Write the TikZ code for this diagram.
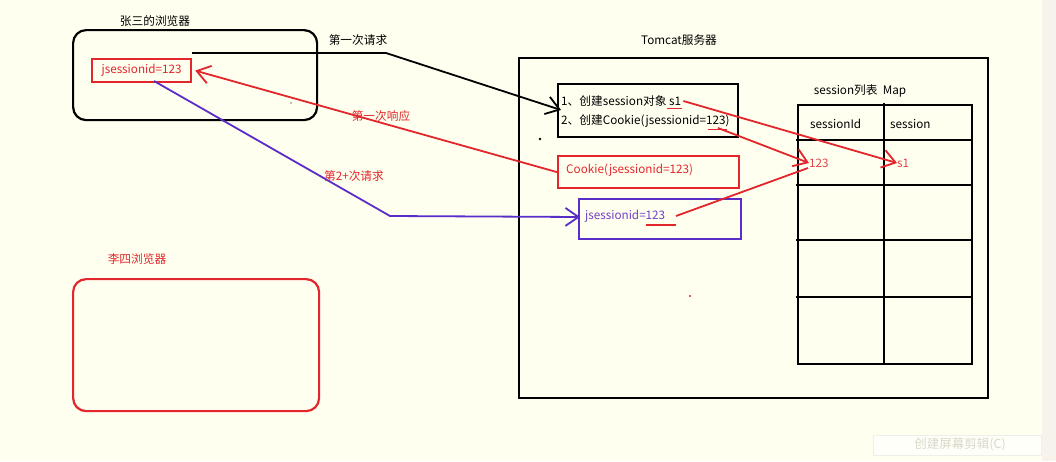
\documentclass[tikz,border=0pt]{standalone}
\usepackage{fontspec}
\setmainfont{Noto Sans CJK SC}
\usetikzlibrary{arrows.meta}
\definecolor{bg}{HTML}{FFFFF0}
\definecolor{strip}{HTML}{F7F2EC}
\definecolor{myred}{HTML}{E2262C}
\definecolor{lred}{HTML}{E04448}
\definecolor{mypurple}{HTML}{5A2DC8}
\definecolor{ptext}{HTML}{7040C8}
\definecolor{faint}{HTML}{D8D8CA}
\tikzset{
  txt/.style={inner sep=0pt, font=\fontsize{11.7}{13}\selectfont},
  blackbox/.style={draw=black, line width=2.2pt, anchor=north west, inner sep=0pt},
  redbox/.style={draw=myred, line width=2.2pt, anchor=north west, inner sep=0pt},
  purplebox/.style={draw=mypurple, line width=2pt, anchor=north west, inner sep=0pt},
  barb/.style={-{Straight Barb[length=13pt,width=18pt,line width=1.8pt]}},
  conn/.style={line width=1.8pt},
  tline/.style={line width=2.2pt, line cap=rect},
}
\begin{document}
\begin{tikzpicture}[x=1pt,y=-1pt]
\useasboundingbox (0,0) rectangle (1056,461);
\fill[bg] (0,0) rectangle (1056,461);
\fill[strip] (1042,0) rectangle (1056,461);

% Zhang San browser
\node[blackbox, rounded corners=13pt, minimum width=244pt, minimum height=90pt] (zsbox) at (72,29) {};
\node[txt] (zslabel) at (155,21) {张三的浏览器};
\node[redbox, minimum width=99pt, minimum height=23pt, text=myred, txt] (jsid) at (91,58) {jsessionid=123};

% Li Si browser
\node[redbox, rounded corners=13pt, minimum width=246pt, minimum height=132pt] (lsbox) at (72,278) {};
\node[txt, text=myred] (lslabel) at (137,259) {李四浏览器};

% Tomcat server
\node[blackbox, minimum width=469pt, minimum height=340pt] (tomcat) at (518,57) {};
\node[txt] (tclabel) at (679,40) {Tomcat服务器};

% step box
\node[blackbox, minimum width=180pt, minimum height=53pt] (box1) at (557,83) {};
\node[txt, anchor=west] (line1) at (561,101) {1、创建session对象 s1};
\node[txt, anchor=west] (line2) at (561,121) {2、创建Cookie(jsessionid=123)};
\coordinate (s1u) at ([xshift=2pt]line1.east);
\draw[myred, line width=1.5pt] ([xshift=-14pt,yshift=-2pt]line1.south east) -- ([xshift=1pt,yshift=-2pt]line1.south east);
\draw[myred, line width=1.5pt] ([xshift=-22pt,yshift=-2pt]line2.south east) -- ([xshift=-3pt,yshift=-2pt]line2.south east);

% cookie box
\node[redbox, minimum width=181pt, minimum height=32pt] (cookie) at (557,155) {};
\node[txt, anchor=west, text=myred] (cookietxt) at (566,170) {Cookie(jsessionid=123)};

% purple box
\node[purplebox, minimum width=162pt, minimum height=40pt] (pbox) at (578,198) {};
\node[txt, anchor=west, text=ptext] (ptxt) at (585,216) {jsessionid=123};
\draw[myred, line width=1.5pt] ([xshift=-19pt,yshift=-2.5pt]ptxt.south east) -- ([xshift=11pt,yshift=-2.5pt]ptxt.south east);

% table
\node[txt] (maplabel) at (860,91) {session列表\ \ Map};
\node[blackbox, minimum width=174pt, minimum height=259pt] (tbl) at (797,104) {};
\draw[tline] (884,104) -- (884,363);
\draw[tline] (797,140) -- (971,140);
\draw[tline] (797,185) -- (971,185);
\draw[tline] (797,240) -- (971,240);
\draw[tline] (797,297) -- (971,297);
\node[txt, anchor=west] (hid) at (810,124) {sessionId};
\node[txt, anchor=west] (hs) at (890,124) {session};
\node[txt, anchor=west, text=lred] (c123) at (809,163) {123};
\node[txt, anchor=west, text=lred] (cs1) at (897,163) {s1};

% connectors
\coordinate (b1) at (192,53);
\coordinate (b2) at (386,53);
\coordinate (b3) at (561,110);
\draw[conn, barb] (b1) -- (b2) -- (b3);
\node[txt] (req1) at (358,40) {第一次请求};

\draw[conn, myred, barb] (cookie.west) -- ([xshift=3pt]jsid.east);
\node[txt, text=myred] (resp1) at (381,116) {第一次响应};

\coordinate (p1) at (154,81);
\coordinate (p2) at (390,216);
\draw[conn, mypurple, barb] (p1) -- (p2) -- ([xshift=2pt,yshift=2pt]pbox.west);
\node[txt, text=myred] (req2) at (354,176) {第2+次请求};

\coordinate (l2u) at (718,128);
\coordinate (pu) at (676,216);
\draw[conn, myred, barb] (s1u) -- (cs1.west);
\draw[conn, myred, barb] (l2u) -- (c123.west);
\draw[conn, myred] (pu) -- (808,168);

% stray dots
\fill[gray] (291,103) circle (0.9pt);
\fill[black] (540,139) circle (1.3pt);
\fill[myred] (690,296) circle (1.2pt);

% faint screen-clip hint
\node[draw=faint!40, fill=white!60!bg, minimum width=168pt, minimum height=20pt, anchor=north west, inner sep=0pt] (hintbox) at (873,435) {};
\node[txt, text=faint, font=\fontsize{12.5}{14}\selectfont] (hint) at (960,444) {创建屏幕剪辑(C)};
\end{tikzpicture}
\end{document}
